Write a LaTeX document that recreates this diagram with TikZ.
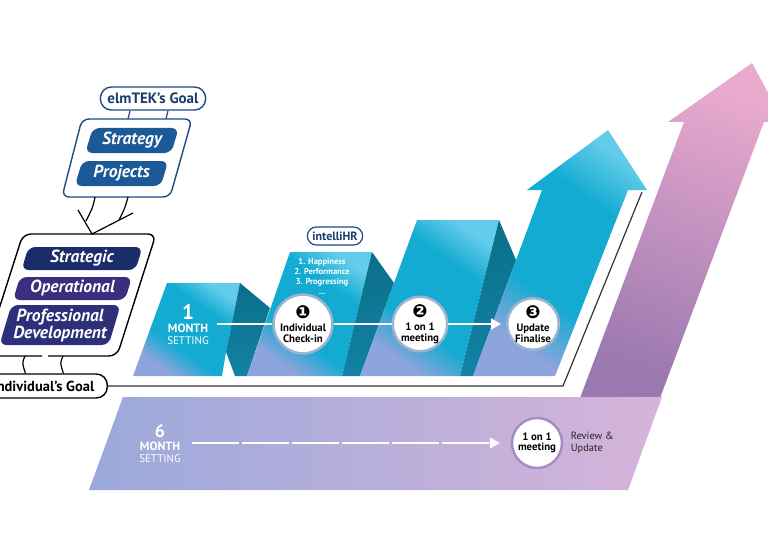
\documentclass[tikz,border=0pt]{standalone}
\usepackage{fontspec}
\setmainfont{PT Sans}
\newfontfamily\dingfont{DejaVu Sans}
\usetikzlibrary{arrows.meta,positioning,calc}

\definecolor{goalblue}{HTML}{1D4A82}
\definecolor{goalnavy}{HTML}{1B3A6E}
\definecolor{pillblue}{HTML}{1C5A97}
\definecolor{pillnavy}{HTML}{1B2C6B}
\definecolor{pillpurple}{HTML}{3A2F7E}
\definecolor{pilldeep}{HTML}{2B3079}
\definecolor{cyanlav}{HTML}{8EA4DC}
\definecolor{cyanmid}{HTML}{13ABD2}
\definecolor{cyanlight}{HTML}{62CCEA}
\definecolor{folddark}{HTML}{0B6F88}
\definecolor{foldlow}{HTML}{1282A6}
\definecolor{bandleft}{HTML}{9AA9DB}
\definecolor{bandmid}{HTML}{B08CC3}
\definecolor{bandright}{HTML}{D6B4DA}
\definecolor{upbottom}{HTML}{9A78B0}
\definecolor{uptop}{HTML}{EAAACE}
\definecolor{ringblue}{HTML}{9DB3D0}
\definecolor{ringpurple}{HTML}{A58CC8}

\pgfdeclareverticalshading{ribbon}{100bp}{color(0bp)=(cyanlav); color(27bp)=(cyanlav);
  color(40bp)=(cyanmid); color(64bp)=(cyanmid); color(76bp)=(cyanlight); color(100bp)=(cyanlight)}

% slanted pill: centre x, centre y, half width, half height, colour
\newcommand{\tiltpill}[5]{%
  \fill[#5, rounded corners=7pt]
    (#1-#3+0.3*#4,#2-#4) -- (#1+#3+0.3*#4,#2-#4) --
    (#1+#3-0.3*#4,#2+#4) -- (#1-#3-0.3*#4,#2+#4) -- cycle;}

\begin{document}
\begin{tikzpicture}[x=1pt,y=-1pt]
\tikzstyle{goal pill} = [draw=goalblue, line width=1.4pt, fill=white, rounded corners=11pt,
  minimum height=23pt, inner xsep=7pt, font=\fontsize{15}{15}\selectfont\bfseries, text=goalnavy]
\tikzstyle{pill text} = [text=white, font=\fontsize{17.5}{17}\selectfont\bfseries\itshape, align=center]
\tikzstyle{panel} = [shading=ribbon, shading angle=-35]
\tikzstyle{fold} = [top color=folddark, bottom color=foldlow]
\tikzstyle{stepdot} = [circle, fill=white, draw=ringblue, line width=2.5pt, minimum size=50pt,
  inner sep=0pt, align=center, font=\fontsize{10.8}{10.5}\selectfont\bfseries]
\tikzstyle{month} = [align=center, text=white, inner sep=3pt, font=\fontsize{12}{12.5}\selectfont]
\tikzstyle{flowline} = [white, line width=1.6pt]
\tikzstyle{linkline} = [line width=1.2pt]

\useasboundingbox (0,0) rectangle (768,559);

% growth arrow and six month band
\shade[top color=uptop, bottom color=upbottom, shading angle=-20]
  (580,398) -- (684,122) -- (668,122) -- (752,63) -- (784,122) -- (764,122) -- (660,398) -- cycle;
\shade[left color=bandleft, middle color=bandmid, right color=bandright]
  (123,397) -- (662,397) -- (628,490) -- (89,490) -- cycle;

% folded one month ribbon
\shade[panel] (167,283) -- (240,283) -- (226,352) -- (222,376) -- (133,376) -- cycle;
\shade[fold] (240,283) -- (270,308) -- (247,376) -- (235,376) -- (226,352) -- cycle;
\shade[panel] (290,252) -- (372,252) -- (342,376) -- (247,376) -- cycle;
\shade[fold] (372,252) -- (394,283) -- (360,376) -- (342,376) -- cycle;
\shade[panel] (417,220) -- (499,220) -- (460,376) -- (360,376) -- cycle;
\shade[fold] (499,220) -- (516,260) -- (473,376) -- (460,376) -- cycle;
\shade[panel] (473,376) -- (542,190) -- (527,190) -- (608,130) -- (647,190) -- (628,190) -- (555,376) -- cycle;

% company goal
\node[goal pill] (elmtek) at (153,98.5) {elmTEK's Goal};
\draw[goalblue, line width=1.4pt, rounded corners=7pt] (82,119) -- (192,119) -- (170,197) -- (62,197) -- cycle;
\coordinate (upbox-a) at (128,119);
\coordinate (upbox-b) at (166,119);
\draw[goalblue, linkline] ($(elmtek.south)+(-23,0)$) -- (upbox-a);
\draw[goalblue, linkline] ($(elmtek.south)+(15,0)$) -- (upbox-b);
\tiltpill{132}{140.5}{43}{12.5}{pillblue}
\node[pill text] (strategy) at (132,140.5) {Strategy};
\tiltpill{121.5}{173.5}{43}{12.5}{pillblue}
\node[pill text] (projects) at (121.5,173.5) {Projects};

% fork down to the individual box
\coordinate (upbox-c) at (95,197);
\coordinate (upbox-d) at (128,197);
\coordinate (fork-l) at (78,210);
\coordinate (fork-r) at (133,213);
\coordinate (lowbox-a) at (92,234);
\draw[linkline] (upbox-c) .. controls (93,207) .. (86,221);
\draw[linkline] (upbox-d) .. controls (125,208) .. (119,220);
\draw[linkline] (fork-l) -- (lowbox-a) -- (fork-r);

% individual goal
\draw[line width=1.4pt, rounded corners=8pt] (48,356) -- (117,356) -- (156,234) -- (23,234) -- (-16,356) -- (42,356);
\tiltpill{82}{258.5}{57}{11.5}{pillnavy}
\node[pill text] (strategic) at (82,258.5) {Strategic};
\tiltpill{72.5}{288.5}{56}{11.5}{pillpurple}
\node[pill text] (operational) at (72.5,288.5) {Operational};
\tiltpill{60}{325}{54.6}{20}{pilldeep}
\node[pill text] (profdev) at (60,325) {Professional\\Development};

\node[goal pill, draw=black, text=black, anchor=east, font=\fontsize{14.5}{14}\selectfont\bfseries,
  inner xsep=13pt, minimum height=24pt] (indiv) at (108,386) {Individual's Goal};
\coordinate (lowbox-b) at (25,356);
\coordinate (lowbox-c) at (63,356);
\draw[linkline] (lowbox-b) .. controls (22,363) .. ($(indiv.north)+(-18,0)$);
\draw[linkline] (lowbox-c) .. controls (60,363) .. ($(indiv.north)+(20,0)$);
\draw[line width=1.2pt, black!80] (indiv.east) -- (563,386) -- (642,192);

% one month steps
\node[month] (month1) at (188,325) {{\fontsize{21}{18}\selectfont\bfseries 1}\\{\bfseries MONTH}\\{\fontsize{11}{11}\selectfont SETTING}};
\node[stepdot] (step1) at (303,324) {{\dingfont\fontsize{18}{14}\selectfont ❶}\\[3pt]Individual\\Check-in};
\node[stepdot] (step2) at (420,324) {{\dingfont\fontsize{18}{14}\selectfont ❷}\\[3pt]1 on 1\\meeting};
\node[stepdot] (step3) at (533,324) {{\dingfont\fontsize{18}{14}\selectfont ❸}\\[3pt]Update\\Finalise};
\draw[flowline] ([xshift=5pt]month1.east |- step1.west) -- (step1.west);
\draw[flowline] (step1) -- (step2);
\draw[flowline, -{Triangle[length=10pt,width=11pt]}, shorten >=5pt] (step2) -- (step3);

\node[goal pill, minimum height=18pt, rounded corners=9pt, inner xsep=5pt, line width=1.2pt,
  font=\fontsize{12}{12}\selectfont\bfseries] (intelli) at (335,236) {intelliHR};
\node[text=white, align=center, font=\fontsize{8.5}{10}\selectfont\bfseries] (checklist) at (322,277)
  {1. Happiness\\2. Performance\\3. Progressing\\...};

% six month step
\node[month] (month6) at (160,444) {{\fontsize{18}{16}\selectfont\bfseries 6}\\{\bfseries MONTH}\\{\fontsize{11}{11}\selectfont SETTING}};
\node[stepdot, draw=ringpurple] (meet6) at (537,443) {1 on 1\\meeting};
\draw[flowline, dash pattern=on 47pt off 3pt, -{Triangle[length=10pt,width=11pt]}, shorten >=11pt]
  ([xshift=8pt]month6.east |- meet6.west) -- (meet6.west);
\node[right=4pt of meet6, align=left, font=\fontsize{10.5}{12}\selectfont, text=black!85] (review) {Review \&\\Update};
\end{tikzpicture}
\end{document}
